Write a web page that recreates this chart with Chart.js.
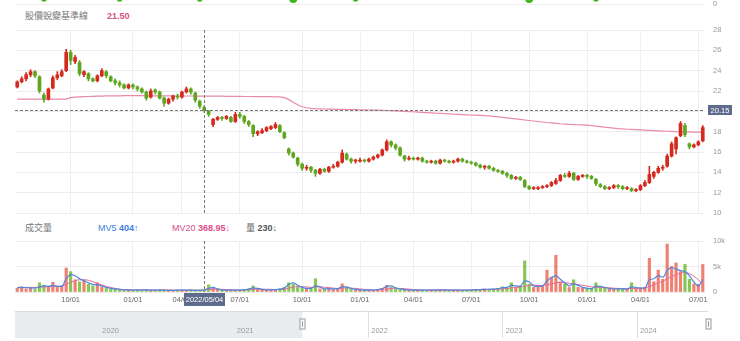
<!DOCTYPE html>
<html>
<head>
<meta charset="utf-8">
<script src="https://cdn.jsdelivr.net/npm/chart.js@4.4.1/dist/chart.umd.min.js"></script>
<style>
  html, body { margin: 0; padding: 0; background: #fff; }
  body { width: 740px; height: 341px; position: relative; overflow: hidden;
         font-family: "Liberation Sans", "Noto Sans CJK TC", sans-serif; }
  canvas { position: absolute; left: 0; }
  .lbl { position: absolute; font-size: 9px; line-height: 11px; white-space: nowrap; color: #777; }
  .lbl b { font-weight: bold; }
</style>
</head>
<body>
<canvas id="sig" width="740" height="30" style="top:-21px"></canvas>
<div class="lbl" style="left:25px;top:11px">股價蛻變基準線</div>
<div class="lbl" id="baseVal" style="left:107px;top:11px;color:#d9508a;font-weight:bold"></div>
<canvas id="price" width="740" height="196" style="top:20px"></canvas>
<div class="lbl" style="left:25px;top:223px">成交量</div>
<div class="lbl" id="mv5Lbl" style="left:98px;top:223px;color:#3f7fe0"></div>
<div class="lbl" id="mv20Lbl" style="left:172px;top:223px;color:#d9508a"></div>
<div class="lbl" id="volLbl" style="left:246px;top:223px;color:#666"></div>
<canvas id="vol" width="740" height="72" style="top:234px"></canvas>
<canvas id="nav" width="740" height="27" style="top:311px"></canvas>

<script>
// weekly samples (Monday of each trading week, Lunar New Year weeks closed)
const weeks = [
  '2021/07/05','2021/07/12','2021/07/19','2021/07/26','2021/08/02','2021/08/09','2021/08/16','2021/08/23','2021/08/30','2021/09/06',
  '2021/09/13','2021/09/20','2021/09/27','2021/10/04','2021/10/11','2021/10/18','2021/10/25','2021/11/01','2021/11/08','2021/11/15',
  '2021/11/22','2021/11/29','2021/12/06','2021/12/13','2021/12/20','2021/12/27',
  '2022/01/03','2022/01/10','2022/01/17','2022/01/24',
  '2022/02/07','2022/02/14','2022/02/21','2022/02/28','2022/03/07','2022/03/14','2022/03/21','2022/03/28','2022/04/04','2022/04/11',
  '2022/04/18','2022/04/25','2022/05/02','2022/05/09','2022/05/16','2022/05/23','2022/05/30','2022/06/06','2022/06/13','2022/06/20',
  '2022/06/27','2022/07/04','2022/07/11','2022/07/18','2022/07/25','2022/08/01','2022/08/08','2022/08/15','2022/08/22','2022/08/29',
  '2022/09/05','2022/09/12','2022/09/19','2022/09/26','2022/10/03','2022/10/10','2022/10/17','2022/10/24','2022/10/31','2022/11/07',
  '2022/11/14','2022/11/21','2022/11/28','2022/12/05','2022/12/12','2022/12/19','2022/12/26',
  '2023/01/02','2023/01/09','2023/01/16',
  '2023/01/30','2023/02/06','2023/02/13','2023/02/20','2023/02/27','2023/03/06','2023/03/13','2023/03/20','2023/03/27','2023/04/03',
  '2023/04/10','2023/04/17','2023/04/24','2023/05/01','2023/05/08','2023/05/15','2023/05/22','2023/05/29','2023/06/05','2023/06/12',
  '2023/06/19','2023/06/26','2023/07/03','2023/07/10','2023/07/17','2023/07/24','2023/07/31','2023/08/07','2023/08/14','2023/08/21',
  '2023/08/28','2023/09/04','2023/09/11','2023/09/18','2023/09/25','2023/10/02','2023/10/09','2023/10/16','2023/10/23','2023/10/30',
  '2023/11/06','2023/11/13','2023/11/20','2023/11/27','2023/12/04','2023/12/11','2023/12/18','2023/12/25',
  '2024/01/01','2024/01/08','2024/01/15','2024/01/22','2024/01/29',
  '2024/02/12','2024/02/19','2024/02/26','2024/03/04','2024/03/11','2024/03/18','2024/03/25',
  '2024/04/01','2024/04/08','2024/04/15','2024/04/22','2024/04/29','2024/05/06','2024/05/13','2024/05/20','2024/05/27','2024/06/03',
  '2024/06/10','2024/06/17','2024/06/24','2024/07/01','2024/07/08'
];

const open = [
  22.4,22.9,23.2,23.6,23.9,23.4,21.6,21.2,22.3,23.3, 23.5,24.0,25.8,24.9,24.8,23.6,23.7,23.2,23.0,23.5,
  23.9,23.4,23.0,22.8,22.6,22.3,22.6,22.4,22.2,21.9, 21.4,22.1,21.9,21.3,20.8,21.2,21.5,21.4,21.9,22.2,
  21.8,21.0,20.4,20.0,18.7,19.2,19.4,19.3,19.4,19.0, 19.7,19.5,19.0,18.6,17.8,17.9,18.1,18.3,18.4,18.6,
  17.9,16.3,15.9,15.4,14.8,14.4,14.5,14.2,13.9,14.3, 14.1,14.5,14.6,15.0,15.8,15.3,15.1,15.1,15.2,15.1,
  15.3,15.5,15.7,16.2,17.0,16.7,16.4,15.6,15.3,15.4, 15.3,15.4,15.1,15.0,15.1,14.9,15.2,15.1,15.0,15.1,
  15.3,15.1,15.0,14.9,14.7,14.5,14.6,14.4,14.2,14.1, 13.9,13.7,13.4,13.5,13.2,12.6,12.4,12.4,12.5,12.6,
  12.7,12.9,13.2,13.7,13.6,13.9,13.3,13.6,13.7,13.6, 13.3,12.8,12.6,12.4,12.5,12.7,12.6,12.4,12.4,12.2,
  12.3,12.7,13.0,13.6,14.0,14.4,14.6,15.6,16.3,17.6, 18.6,16.8,16.5,16.7,17.1
];
const close = [
  22.9,23.2,23.6,23.9,23.5,22.0,21.2,22.2,23.3,23.6, 23.9,25.8,25.0,25.3,23.7,23.9,23.2,23.0,23.5,24.0,
  23.5,23.0,22.8,22.6,22.3,22.6,22.4,22.2,21.9,21.3, 22.0,21.9,21.3,20.8,21.2,21.5,21.4,21.9,22.2,21.9,
  21.1,20.5,20.1,19.7,19.2,19.4,19.3,19.5,19.0,19.7, 19.5,19.0,18.7,17.8,18.0,18.1,18.4,18.5,18.7,18.0,
  17.4,15.9,15.5,14.8,14.4,14.5,14.2,13.9,14.3,14.1, 14.5,14.6,15.0,15.9,15.3,15.1,15.2,15.2,15.1,15.3,
  15.5,15.7,16.2,17.0,16.7,16.4,15.7,15.3,15.4,15.3, 15.4,15.1,15.0,15.1,14.9,15.2,15.1,15.0,15.1,15.3,
  15.1,15.0,14.9,14.7,14.5,14.6,14.4,14.2,14.1,13.9, 13.7,13.4,13.5,13.3,12.6,12.4,12.5,12.5,12.6,12.7,
  13.0,13.2,13.7,13.6,13.9,13.3,13.6,13.7,13.6,13.4, 12.9,12.6,12.4,12.5,12.7,12.6,12.4,12.5,12.2,12.3,
  12.7,13.0,13.8,14.0,14.4,14.5,15.6,16.8,17.4,18.8, 17.7,16.5,16.7,17.0,18.4
];
const high = [
  23.0,23.4,23.8,24.1,24.0,23.5,21.8,22.3,23.5,23.9, 24.1,26.1,26.0,25.5,25.0,24.0,23.8,23.3,23.6,24.2,
  24.0,23.5,23.2,23.0,22.7,22.7,22.7,22.5,22.3,22.0, 22.2,22.2,22.0,21.4,21.3,21.6,21.7,22.0,22.4,22.3,
  21.9,21.1,20.5,20.1,19.3,19.5,19.5,19.6,19.5,19.9, 19.9,19.6,19.1,18.7,18.1,18.3,18.5,18.6,18.9,18.7,
  18.0,16.4,16.0,15.5,14.9,14.7,14.6,14.3,14.4,14.4, 14.6,14.8,15.1,16.2,15.9,15.4,15.3,15.4,15.3,15.4,
  15.6,15.8,16.3,17.2,17.1,16.8,16.5,15.7,15.6,15.5, 15.5,15.5,15.2,15.2,15.2,15.3,15.3,15.2,15.2,15.4,
  15.4,15.2,15.1,15.0,14.8,14.7,14.7,14.5,14.3,14.2, 14.0,13.8,13.6,13.6,13.3,12.7,12.6,12.6,12.7,12.8,
  13.1,13.4,13.8,13.9,14.1,14.0,13.7,13.8,13.8,13.7, 13.4,12.9,12.7,12.6,12.8,12.8,12.7,12.6,12.5,12.4,
  12.8,13.2,14.6,14.1,14.6,14.7,15.8,17.0,17.5,19.0, 18.8,16.9,16.8,17.1,18.6
];
const low = [
  22.3,22.8,23.0,23.4,23.3,21.8,20.9,21.1,22.2,23.1, 23.4,23.9,24.6,24.7,23.5,23.4,23.0,22.9,22.9,23.4,
  23.3,22.9,22.6,22.4,22.2,22.2,22.2,22.0,21.8,21.1, 21.3,21.7,21.2,20.5,20.7,21.0,21.2,21.3,21.8,21.7,
  20.9,20.3,19.9,19.5,18.5,19.1,19.1,19.2,18.9,18.9, 19.3,18.8,18.5,17.5,17.6,17.8,18.0,18.2,18.3,17.9,
  17.3,15.7,15.4,14.6,14.2,14.2,14.0,13.6,13.8,14.0, 14.0,14.4,14.5,14.9,15.2,14.9,14.9,15.0,15.0,15.0,
  15.2,15.4,15.6,16.1,16.5,16.2,15.6,15.1,15.2,15.2, 15.2,15.0,14.9,14.9,14.8,14.8,15.0,14.9,14.9,15.0,
  15.0,14.9,14.8,14.6,14.4,14.3,14.3,14.1,14.0,13.8, 13.5,13.3,13.3,13.2,12.5,12.3,12.3,12.3,12.4,12.5,
  12.6,12.8,13.1,13.5,13.5,13.2,13.2,13.5,13.4,13.3, 12.7,12.5,12.3,12.3,12.4,12.4,12.3,12.3,12.1,12.1,
  12.2,12.6,12.9,13.4,13.9,14.2,14.5,15.5,15.8,17.5, 17.5,16.3,16.4,16.6,17.0
];
// 股價蛻變基準線
const baseLine = [
  21.2,21.2,21.2,21.2,21.2,21.2,21.2,21.2,21.2,21.2, 21.2,21.2,21.35,21.4,21.42,21.44,21.46,21.48,21.5,21.5,
  21.52,21.52,21.53,21.53,21.54,21.54,21.54,21.54,21.54,21.53, 21.53,21.53,21.52,21.52,21.52,21.52,21.51,21.51,21.51,21.51,
  21.5,21.5,21.5,21.5,21.5,21.49,21.49,21.48,21.48,21.47, 21.47,21.46,21.46,21.45,21.45,21.44,21.44,21.44,21.43,21.43,
  21.35,21.15,20.9,20.65,20.45,20.35,20.3,20.27,20.25,20.23, 20.22,20.21,20.2,20.19,20.18,20.17,20.16,20.15,20.14,20.13,
  20.12,20.11,20.1,20.08,20.07,20.05,20.03,20.0,19.98,19.96, 19.93,19.9,19.88,19.85,19.82,19.8,19.77,19.75,19.72,19.7,
  19.68,19.66,19.64,19.62,19.6,19.57,19.55,19.5,19.45,19.4, 19.35,19.3,19.25,19.2,19.15,19.1,19.05,19.0,18.95,18.9,
  18.86,18.82,18.78,18.75,18.72,18.7,18.68,18.66,18.64,18.6, 18.55,18.5,18.44,18.4,18.35,18.3,18.27,18.24,18.22,18.2,
  18.18,18.15,18.12,18.1,18.08,18.06,18.04,18.02,18.0,17.99, 17.98,17.97,17.96,17.95,17.94
];
const volume = [
  700,1000,600,800,500,1800,1300,1100,1900,900, 1200,4700,4000,2400,2000,2300,1500,1200,1800,1000,
  700,500,600,400,300,350,300,400,300,450, 350,300,350,400,300,250,300,350,300,400,
  350,300,230,1400,800,500,350,300,400,300, 350,500,600,1200,500,400,350,400,500,600,
  900,1800,1500,900,700,600,800,2600,600,500, 800,500,700,1600,900,500,400,350,300,400,
  350,500,700,1300,900,600,500,400,350,300, 400,350,300,400,350,500,400,300,350,400,
  300,350,400,500,450,600,500,600,700,1000, 800,1800,900,1200,6100,1500,900,1300,1100,4300,
  2900,7200,2000,1600,900,2400,900,800,700,600, 1800,1000,900,600,500,700,600,500,1800,700,
  800,900,6600,2000,4300,2500,9400,5000,5700,4000, 5400,2500,1600,1500,5400
];
const mv5 = [
  800,900,850,800,750,1000,1200,1100,1300,1100, 1100,2600,3400,3200,2600,2200,1800,1500,1400,1200,
  900,700,600,500,400,400,350,350,400,400, 350,350,400,350,300,300,350,350,350,350,
  320,330,404,700,900,600,400,350,350,350, 350,450,550,800,700,500,400,400,450,550,
  800,1500,1800,1300,900,700,700,1200,1000,600, 650,600,650,1000,1000,700,500,400,350,350,
  380,450,650,1100,1200,800,600,450,400,350, 350,380,350,350,380,420,420,350,350,380,
  350,350,380,450,480,520,550,580,650,850, 900,1300,1200,1100,2200,2000,1200,1100,1200,2200,
  2800,3200,2500,1800,1200,1600,1300,900,750,650, 1100,1100,900,700,600,600,600,550,1000,900,
  750,800,2400,2600,3200,2900,4200,4800,4500,4200, 4000,3200,2000,1200,2400
];
const mv20 = [
  900,900,900,900,900,950,1000,1050,1100,1100, 1150,1500,1900,2200,2400,2400,2300,2000,1700,1400,
  1100,900,700,550,450,420,410,400,400,400, 390,390,390,380,380,370,370,370,370,370,
  370,370,368.95,450,550,560,520,480,430,400, 380,400,430,500,550,560,540,520,480,480,
  550,750,950,1050,1050,1000,900,1000,1000,950, 850,750,700,750,800,750,700,600,500,420,
  400,420,480,600,700,750,700,650,560,470, 420,390,380,370,370,380,390,390,380,370,
  370,370,370,390,410,440,470,500,540,600, 680,800,900,950,1150,1300,1350,1300,1250,1400,
  1600,1800,1900,1850,1700,1600,1450,1300,1150,1000, 950,900,850,800,750,700,680,660,700,720,
  720,740,1100,1400,1800,2100,2600,3000,3400,3700, 3800,3600,3100,2400,1500
];

const tickDates = ['2021/10/01','2022/01/01','2022/04/01','2022/07/01','2022/10/01','2023/01/01',
                   '2023/04/01','2023/07/01','2023/10/01','2024/01/01','2024/04/01','2024/07/01'];
const crossDate = '2022/05/04';
const crossPrice = 20.15;
const sigSmall = ['2021/08/16','2021/12/13','2022/04/25','2022/12/26','2024/01/15'];
const sigBig = ['2022/09/19','2023/10/02'];
const navStart = '2019/05/17';
const navEnd = '2024/07/12';
const navYears = [2020, 2021, 2022, 2023, 2024];

const RED = '#d42a1f', GREEN = '#5fa620';
const VOL_RED = 'rgba(236,100,86,0.82)', VOL_GREEN = 'rgba(118,190,58,0.88)';
const FONT = '"Liberation Sans", Arial, sans-serif';
const AXIS_W = 35;
const DAY = 864e5;

// week whose Friday is on/after the date
const weekOf = d => weeks.findIndex(w => new Date(w).getTime() + 4 * DAY >= new Date(d).getTime());
const tickIdx = tickDates.map(weekOf);
const crossIdx = weekOf(crossDate);
const up = close.map((c, i) => c >= open[i]);
const yearFrac = d => {
  const t = new Date(d), y = t.getFullYear();
  return y + (t - new Date(y, 0, 1)) / (new Date(y + 1, 0, 1) - new Date(y, 0, 1));
};

Chart.defaults.font.family = FONT;
Chart.defaults.color = '#999';
Chart.defaults.animation = false;
Chart.defaults.responsive = false;
Chart.defaults.plugins.legend.display = false;
Chart.defaults.plugins.tooltip.enabled = false;

// legend texts at the crosshair date
const arrow = (arr, i) => arr[i] >= arr[i - 1] ? '↑' : '↓';
document.getElementById('baseVal').textContent = baseLine[crossIdx].toFixed(2);
document.getElementById('mv5Lbl').innerHTML = 'MV5 <b>' + mv5[crossIdx] + arrow(mv5, crossIdx) + '</b>';
document.getElementById('mv20Lbl').innerHTML = 'MV20 <b>' + mv20[crossIdx] + arrow(mv20, crossIdx) + '</b>';
document.getElementById('volLbl').innerHTML = '量 <b style="color:#555">' + volume[crossIdx] + arrow(volume, crossIdx) + '</b>';

const xGrid = {
  offset: false, drawTicks: false,
  color: c => tickIdx.includes(c.index) ? '#efefef' : 'rgba(0,0,0,0)'
};
// fixed right axis, and no extra room reserved for half labels
const fitRight = s => { s.width = AXIS_W; s.paddingTop = 0; s.paddingBottom = 0; };

function dashed(ctx) {
  ctx.strokeStyle = '#777';
  ctx.lineWidth = 1;
  ctx.setLineDash([3, 2]);
}

const crossPricePlugin = {
  id: 'crossPrice',
  afterDraw(chart) {
    const { ctx, chartArea: a, scales } = chart;
    const cx = Math.round(scales.x.getPixelForValue(crossIdx)) + 0.5;
    const cy = Math.round(scales.y.getPixelForValue(crossPrice)) + 0.5;
    ctx.save();
    dashed(ctx);
    ctx.beginPath();
    ctx.moveTo(cx, a.top); ctx.lineTo(cx, a.bottom);
    ctx.moveTo(a.left, cy); ctx.lineTo(a.right, cy);
    ctx.stroke();
    ctx.setLineDash([]);
    ctx.fillStyle = '#5d6c8c';
    ctx.fillRect(a.right + 3, cy - 5.5, 24, 10);
    ctx.fillStyle = '#fff';
    ctx.font = '7.5px ' + FONT;
    ctx.textAlign = 'center';
    ctx.textBaseline = 'middle';
    ctx.fillText(crossPrice.toFixed(2), a.right + 15, cy);
    ctx.restore();
  }
};

const crossVolPlugin = {
  id: 'crossVol',
  afterDraw(chart) {
    const { ctx, chartArea: a, scales } = chart;
    const cx = Math.round(scales.x.getPixelForValue(crossIdx)) + 0.5;
    ctx.save();
    dashed(ctx);
    ctx.beginPath();
    ctx.moveTo(cx, a.top); ctx.lineTo(cx, a.bottom);
    ctx.stroke();
    ctx.setLineDash([]);
    ctx.fillStyle = '#5d6c8c';
    ctx.fillRect(cx - 20.5, a.bottom + 1, 41, 13);
    ctx.fillStyle = '#fff';
    ctx.font = '7.5px ' + FONT;
    ctx.textAlign = 'center';
    ctx.textBaseline = 'middle';
    ctx.fillText(crossDate, cx, a.bottom + 7.5);
    ctx.restore();
  }
};

const navPlugin = {
  id: 'navDeco',
  afterDraw(chart) {
    const { ctx, chartArea: a, scales } = chart;
    ctx.save();
    ctx.strokeStyle = '#d8dcdf';
    ctx.beginPath();
    ctx.moveTo(a.left, a.top + 0.5); ctx.lineTo(a.right, a.top + 0.5);
    ctx.stroke();
    ctx.fillStyle = '#9a9a9a';
    ctx.font = '7.5px ' + FONT;
    ctx.textAlign = 'left';
    ctx.textBaseline = 'middle';
    navYears.forEach(y => ctx.fillText(String(y), scales.x.getPixelForValue(y) + 3, a.bottom - 7));
    [yearFrac(weeks[0]), yearFrac(navEnd)].forEach(v => {
      const px = Math.round(scales.x.getPixelForValue(v)) + 0.5;
      ctx.fillStyle = '#f8f8f8';
      ctx.strokeStyle = '#9c9c9c';
      ctx.fillRect(px - 2.5, 8, 5, 10);
      ctx.strokeRect(px - 2.5, 8, 5, 10);
      ctx.beginPath();
      ctx.moveTo(px, 10.5); ctx.lineTo(px, 15.5);
      ctx.stroke();
    });
    ctx.restore();
  }
};

// signal strip at the very top (only its lower edge is in view)
new Chart(document.getElementById('sig'), {
  type: 'line',
  data: {
    labels: weeks,
    datasets: [
      { data: weeks.map(w => sigSmall.includes(w) ? 1 : null), showLine: false, pointRadius: 2.8,
        pointBackgroundColor: '#3fb61d', pointBorderWidth: 0, clip: false },
      { data: weeks.map(w => sigBig.includes(w) ? 1 : null), showLine: false, pointRadius: 4,
        pointBackgroundColor: '#3fb61d', pointBorderWidth: 0, clip: false }
    ]
  },
  options: {
    layout: { padding: { left: 15, right: 0, top: 20, bottom: 5 } },
    scales: {
      x: { display: false, offset: true },
      y: {
        position: 'right', min: 0, max: 1, afterFit: fitRight,
        afterBuildTicks: s => { s.ticks = [{ value: 0 }]; },
        ticks: { color: '#999', font: { size: 7.5 }, padding: 8 },
        grid: { color: '#ececec', drawTicks: false },
        border: { display: false }
      }
    }
  }
});

// price panel
new Chart(document.getElementById('price'), {
  type: 'bar',
  data: {
    labels: weeks,
    datasets: [
      { type: 'line', data: baseLine, borderColor: '#e88aa8', borderWidth: 1.2, pointRadius: 0, order: 3 },
      { data: weeks.map((w, i) => [low[i], high[i]]), backgroundColor: up.map(u => u ? RED : GREEN),
        barThickness: 1, grouped: false, order: 2 },
      { data: weeks.map((w, i) => [open[i], close[i]]), backgroundColor: up.map(u => u ? RED : GREEN),
        barThickness: 3, grouped: false, minBarLength: 1, order: 1 }
    ]
  },
  options: {
    layout: { padding: { left: 15, right: 0, top: 10, bottom: 3 } },
    scales: {
      x: { ticks: { display: false, autoSkip: false }, grid: xGrid, border: { display: false },
           afterFit: s => { s.height = 0; } },
      y: {
        position: 'right', min: 10, max: 28, afterFit: fitRight,
        ticks: { stepSize: 2, color: '#999', font: { size: 7.5 }, padding: 8 },
        grid: { color: '#ececec', drawTicks: false },
        border: { display: false }
      }
    }
  },
  plugins: [crossPricePlugin]
});

// volume panel
new Chart(document.getElementById('vol'), {
  type: 'bar',
  data: {
    labels: weeks,
    datasets: [
      { type: 'line', data: mv5, borderColor: '#4f86dc', borderWidth: 1.2, pointRadius: 0,
        cubicInterpolationMode: 'monotone', order: 1 },
      { type: 'line', data: mv20, borderColor: '#e46b96', borderWidth: 1, pointRadius: 0,
        cubicInterpolationMode: 'monotone', order: 2 },
      { data: volume, backgroundColor: up.map(u => u ? VOL_RED : VOL_GREEN), barThickness: 2.5, order: 3 }
    ]
  },
  options: {
    layout: { padding: { left: 15, right: 0, top: 7, bottom: 0 } },
    scales: {
      x: {
        afterFit: s => { s.height = 14; },
        ticks: {
          autoSkip: false, maxRotation: 0, minRotation: 0, padding: 3,
          color: '#666', font: { size: 7.5 },
          callback: (v, i) => {
            const k = tickIdx.indexOf(i);
            return k >= 0 ? tickDates[k].slice(5) : '';
          }
        },
        grid: xGrid, border: { display: false }
      },
      y: {
        position: 'right', min: 0, max: 10000, afterFit: fitRight,
        ticks: { stepSize: 5000, color: '#999', font: { size: 7.5 }, padding: 8,
                 callback: v => v === 0 ? '0' : (v / 1000) + 'k' },
        grid: { color: '#ececec', drawTicks: false },
        border: { display: false }
      }
    }
  },
  plugins: [crossVolPlugin]
});

// navigator
new Chart(document.getElementById('nav'), {
  type: 'bar',
  data: {
    labels: ['range'],
    datasets: [{ data: [[yearFrac(navStart), yearFrac(weeks[0])]], backgroundColor: '#e9ecef',
                 barPercentage: 1, categoryPercentage: 1 }]
  },
  options: {
    indexAxis: 'y',
    layout: { padding: { left: 15, right: 32, top: 0, bottom: 0 } },
    scales: {
      x: {
        type: 'linear', min: yearFrac(navStart), max: yearFrac(navEnd),
        afterBuildTicks: s => { s.ticks = navYears.map(v => ({ value: v })); },
        ticks: { display: false },
        grid: { color: '#dcdfe2', drawTicks: false },
        border: { display: false }
      },
      y: { display: false }
    }
  },
  plugins: [navPlugin]
});
</script>
</body>
</html>
